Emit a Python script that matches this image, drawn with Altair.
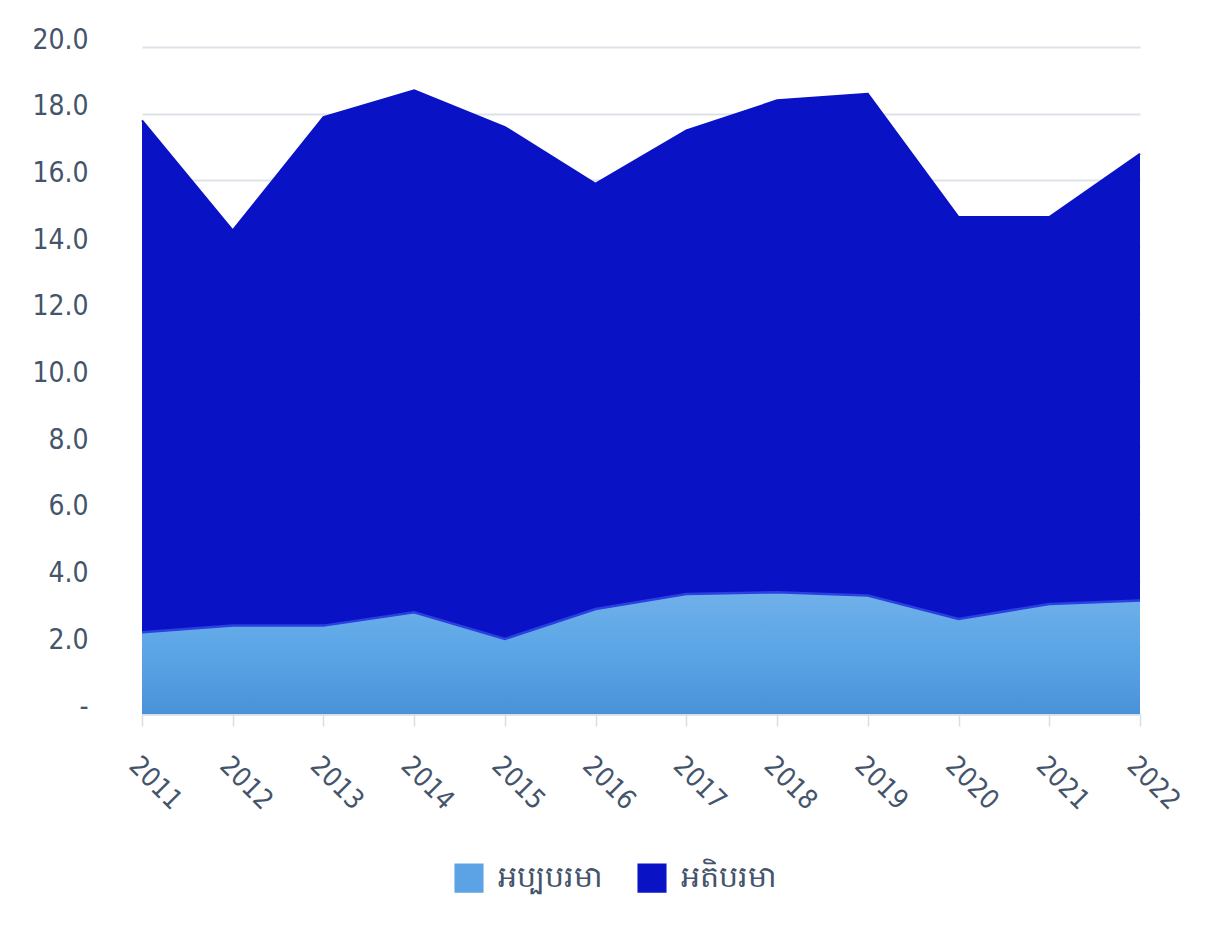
import altair as alt
import pandas as pd

years = [str(y) for y in range(2011, 2023)]
max_vals = [17.8, 14.5, 17.9, 18.7, 17.6, 15.9, 17.5, 18.4, 18.6, 14.9, 14.9, 16.8]
min_vals = [2.45, 2.65, 2.65, 3.05, 2.25, 3.15, 3.6, 3.65, 3.55, 2.85, 3.3, 3.4]
series = ["អប្បបរមា", "អតិបរមា"]
series_colors = ["#5BA3E4", "#0A12C6"]
y_ticks = [0, 2, 4, 6, 8, 10, 12, 14, 16, 18, 20]

df_max = pd.DataFrame({"year": years, "value": max_vals, "series": series[1]})
df_min = pd.DataFrame({"year": years, "value": min_vals, "series": series[0]})

FONT = "DejaVu Sans Condensed, Liberation Sans, sans-serif"
TXT = "#44546A"

x_enc = alt.X(
    "year:O",
    scale=alt.Scale(type="point", padding=0),
    title=None,
    axis=alt.Axis(
        labelAngle=45,
        labelAlign="left",
        labelBaseline="top",
        labelFontSize=27,
        labelFont=FONT,
        labelColor=TXT,
        labelPadding=26,
        tickSize=12,
        tickColor="#D9DDE4",
        tickWidth=1.5,
        domainColor="#D3DCE8",
        domainWidth=2,
        grid=False,
    ),
)
y_enc = alt.Y(
    "value:Q",
    scale=alt.Scale(domain=[0, 20], nice=False),
    title=None,
    axis=alt.Axis(
        values=y_ticks,
        labelExpr="datum.value == 0 ? '-' : format(datum.value, '.1f')",
        labelFontSize=28,
        labelFont=FONT,
        labelColor=TXT,
        labelPadding=54,
        labelOffset=-7,
        ticks=False,
        domain=False,
        grid=True,
        gridColor="#DDE1E8",
        gridWidth=2,
    ),
)
color_enc = alt.Color(
    "series:N",
    scale=alt.Scale(domain=series, range=series_colors),
    legend=alt.Legend(
        title=None,
        orient="none",
        direction="horizontal",
        legendX=312,
        legendY=816,
        symbolType="square",
        symbolSize=760,
        symbolStrokeWidth=1.5,
        symbolStrokeColor="#3A5FA0",
        symbolOpacity=1,
        labelFontSize=30,
        labelFont=FONT,
        labelColor=TXT,
        labelOffset=14,
        columnPadding=32,
    ),
)

dark = alt.Chart(df_max).mark_area(opacity=1, line={"color": "#0810A8", "strokeWidth": 2}).encode(
    x=x_enc, y=y_enc.stack(None), color=color_enc
)
light = alt.Chart(df_min).mark_area(opacity=1).encode(
    x=x_enc, y=y_enc.stack(None), color=color_enc
)
grad = alt.Chart(df_min).mark_area(
    opacity=1,
    fill=alt.Gradient(
        gradient="linear",
        stops=[
            alt.GradientStop(color="#70B0EA", offset=0),
            alt.GradientStop(color="#5AA5E6", offset=0.5),
            alt.GradientStop(color="#4A92D8", offset=1),
        ],
        x1=0, x2=0, y1=0, y2=1,
    ),
    line={"color": "#2A40E0", "strokeWidth": 2.5},
).encode(x=x_enc, y=y_enc.stack(None))

chart = (
    alt.layer(dark, light, grad)
    .properties(
        width=998,
        height=667,
        autosize=alt.AutoSizeParams(type="none"),
        padding={"left": 134, "top": 39, "right": 60, "bottom": 210},
        view=alt.ViewBackground(strokeWidth=0, strokeOpacity=0),
    )
    .configure_view(strokeWidth=0, strokeOpacity=0)
    .configure(background="white")
)

chart.save("out.html", embed_options={"renderer": "svg", "actions": False})
